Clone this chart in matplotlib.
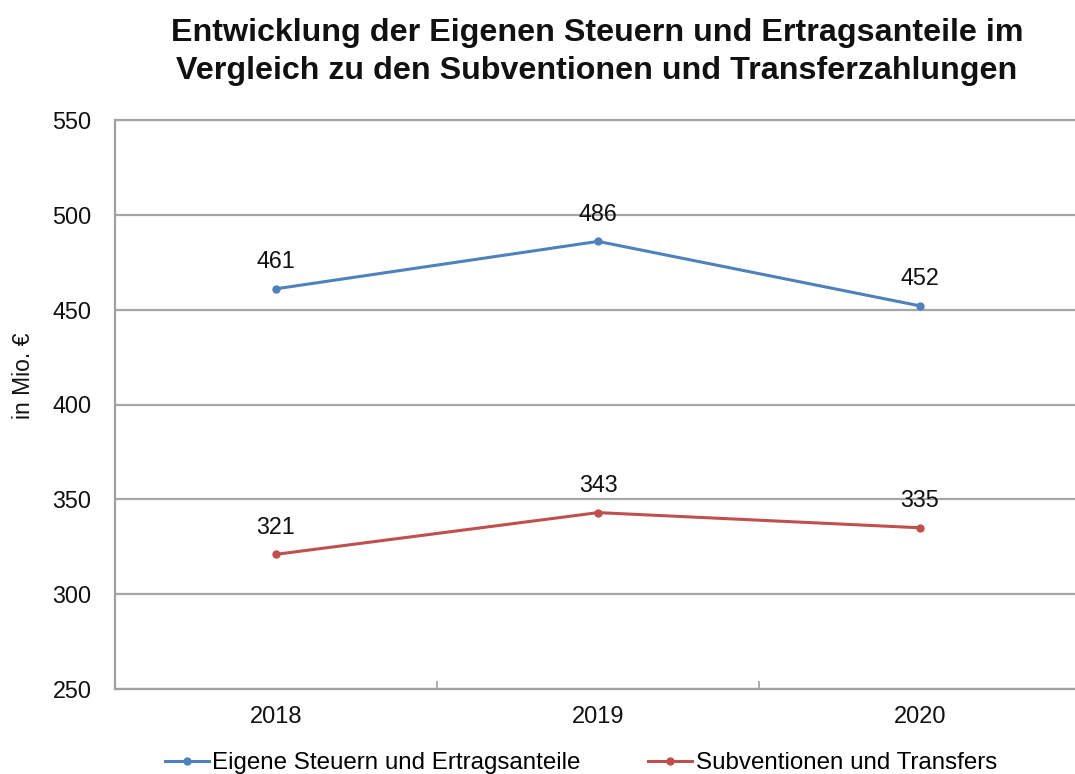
import matplotlib
matplotlib.use("Agg")
import matplotlib.pyplot as plt
from matplotlib.ticker import MultipleLocator, FixedLocator

plt.rcParams['font.family'] = ['Liberation Sans', 'DejaVu Sans']

years = ["2018", "2019", "2020"]
eigene = [461, 486, 452]
subventionen = [321, 343, 335]
series_names = ["Eigene Steuern und Ertragsanteile", "Subventionen und Transfers"]
colors = ["#4F81BD", "#C0504D"]
title = "Entwicklung der Eigenen Steuern und Ertragsanteile im\nVergleich zu den Subventionen und Transferzahlungen"
ylabel = "in Mio. €"

fig = plt.figure(figsize=(10.75, 7.74), dpi=100)
ax = fig.add_axes([115/1075, 1-689/774, (1081-115)/1075, (689-120)/774])

x = list(range(len(years)))
for vals, name, c in zip([eigene, subventionen], series_names, colors):
    ax.plot(x, vals, color=c, lw=2.2, marker='o', ms=5, label=name)
    for xi, v in zip(x, vals):
        ax.annotate(str(v), (xi, v), xytext=(0, 19.5), textcoords='offset points',
                    ha='center', va='center', fontsize=16.8, color='#111111')

ax.set_xlim(-0.5, 2.5)
ax.set_ylim(250, 550)
ax.yaxis.set_major_locator(MultipleLocator(50))
ax.set_xticks(x)
ax.set_xticklabels(years)
ax.xaxis.set_minor_locator(FixedLocator([0.5, 1.5]))
ax.tick_params(axis='x', which='major', length=0, pad=12, labelsize=17, labelcolor='#111111')
ax.tick_params(axis='x', which='minor', length=6, width=1.2, direction='in', color='#A0A0A0')
ax.tick_params(axis='y', which='major', length=0, pad=17, labelsize=16.8, labelcolor='#111111')

ax.grid(axis='y', color='#A6A6A6', lw=1.6)
ax.set_axisbelow(True)
for s in ['left', 'bottom']:
    ax.spines[s].set_color('#A0A0A0')
    ax.spines[s].set_linewidth(1.6)
ax.spines['top'].set_color('#A6A6A6')
ax.spines['top'].set_linewidth(1.6)
ax.spines['right'].set_visible(False)

fig.text(23/1075, 1-376/774, ylabel, rotation=90, ha='center', va='center',
         fontsize=16.5, color='#111111')

fig.text(597/1075, 1-52/774, title, ha='center', va='center', fontsize=23.2,
         fontweight='bold', color='#111111', linespacing=1.33)

fig.legend(loc='center', bbox_to_anchor=(581/1075, 1-763/774), ncol=2, frameon=False,
           fontsize=17.4, handlelength=1.8, handletextpad=0.15, columnspacing=2.8,
           borderaxespad=0, borderpad=0)

fig.savefig("out.png", dpi=100)
